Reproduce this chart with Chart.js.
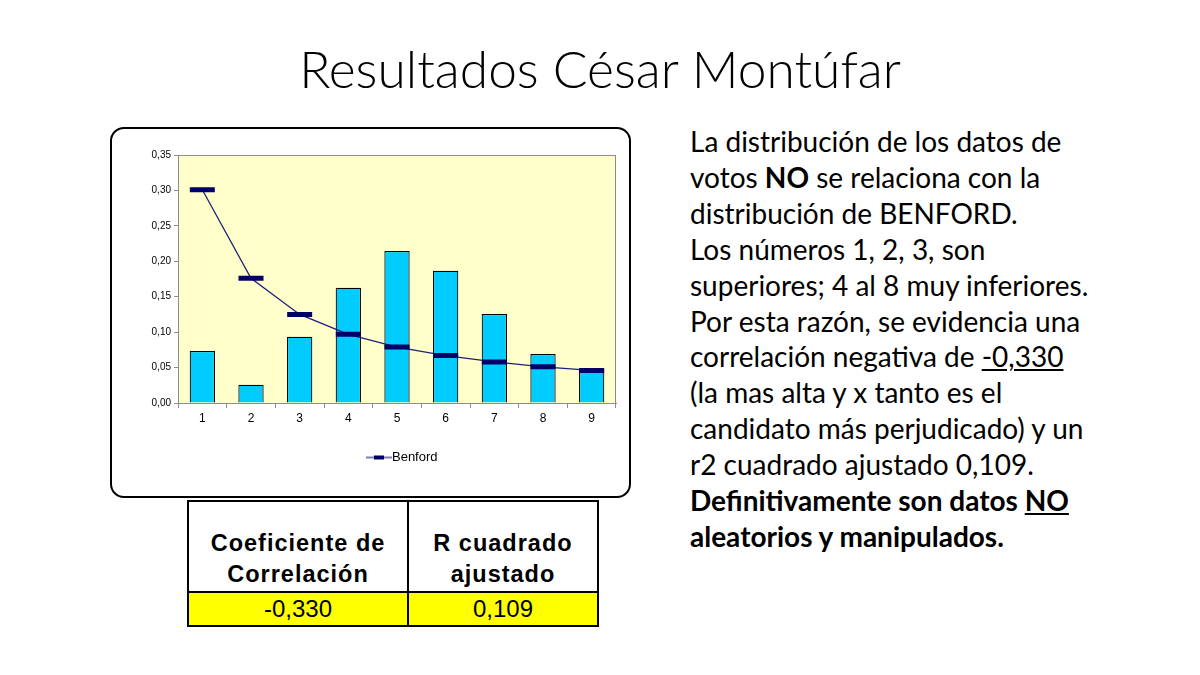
<!DOCTYPE html>
<html>
<head>
<meta charset="utf-8">
<script src="https://cdn.jsdelivr.net/npm/chart.js@4"></script>
<style>
  html, body { margin:0; padding:0; background:#fff; }
  body { width:1200px; height:675px; position:relative; overflow:hidden; font-family: Lato, "Open Sans", sans-serif; }
  #title { position:absolute; left:0; top:33px; width:1200px; text-align:center; font-family: Lato, sans-serif; font-weight:300; font-size:51.5px; line-height:70px; color:#000; }
  #box { position:absolute; left:110px; top:127px; width:517px; height:367px; border:2px solid #000; border-radius:14px; background:#fff; overflow:hidden; }
  #wrap { position:absolute; left:0; top:0; width:517px; height:367px; }
  #txt { position:absolute; left:690px; top:124px; width:505px; font-size:28px; line-height:35.9px; color:#000; white-space:nowrap; }
  #txt b { font-weight:700; }
  table { position:absolute; left:187px; top:500px; border-collapse:collapse; font-family:"Liberation Sans", Arial, sans-serif; }
  td { border:2px solid #000; text-align:center; padding:0; }
  td.h { height:88px; font-weight:bold; font-size:23.5px; letter-spacing:1px; line-height:31px; vertical-align:bottom; padding-bottom:1px; }
  td.v { height:32px; background:#ffff00; font-size:24px; }
</style>
</head>
<body>
<div id="title">Resultados César Montúfar</div>
<div id="box"><div id="wrap"><canvas id="c"></canvas></div></div>
<div id="txt">
La distribución de los datos de<br>
votos <b>NO</b> se relaciona con la<br>
distribución de BENFORD.<br>
Los números 1, 2, 3, son<br>
superiores; 4 al 8 muy inferiores.<br>
Por esta razón, se evidencia una<br>
correlación negativa de <u>-0,330</u><br>
(la mas alta y x tanto es el<br>
candidato más perjudicado) y un<br>
r2 cuadrado ajustado 0,109.<br>
<b>Definitivamente son datos <u>NO</u></b><br>
<b>aleatorios y manipulados.</b>
</div>
<table>
  <tr><td class="h" style="width:218px">Coeficiente de<br>Correlación</td><td class="h" style="width:188px">R cuadrado<br>ajustado</td></tr>
  <tr><td class="v">-0,330</td><td class="v">0,109</td></tr>
</table>
<script>
const categories = ['1','2','3','4','5','6','7','8','9'];
const observed = [0.0734, 0.0258, 0.0936, 0.1627, 0.2145, 0.1867, 0.1256, 0.0690, 0.0484];
const benford = [0.301, 0.176, 0.125, 0.097, 0.079, 0.067, 0.058, 0.051, 0.046];
const yTicks = [0, 0.05, 0.10, 0.15, 0.20, 0.25, 0.30, 0.35];

const legendIcon = document.createElement('canvas');
legendIcon.width = 26; legendIcon.height = 6;
(function(){
  const g = legendIcon.getContext('2d');
  g.strokeStyle = '#2a2a8a'; g.lineWidth = 1.2;
  g.beginPath(); g.moveTo(0,3); g.lineTo(26,3); g.stroke();
  g.fillStyle = '#000066'; g.fillRect(8,1,10,4);
})();

const bgPlugin = {
  id:'bgPlugin',
  afterLayout(chart){
    if (chart.legend) { chart.legend.left += 8; chart.legend.right += 8; }
  },
  beforeDatasetsDraw(chart){
    const {ctx, chartArea:a} = chart;
    ctx.save();
    ctx.fillStyle = '#ffffcc';
    ctx.fillRect(a.left, a.top, a.right-a.left, a.bottom-a.top);
    ctx.strokeStyle = '#8c8c8c'; ctx.lineWidth = 1;
    ctx.strokeRect(a.left+0.5, a.top+0.5, a.right-a.left-1, a.bottom-a.top);
    ctx.restore();
  }
};

new Chart(document.getElementById('c'), {
  data: {
    labels: categories,
    datasets: [
      { type:'line', label:'Benford', data: benford, order:1,
        borderColor:'#1f1f7a', borderWidth:1.3, fill:false, tension:0,
        pointStyle:'line', pointRadius:12.5, pointHoverRadius:12.5, pointBorderWidth:5,
        pointBorderColor:'#000066', pointBackgroundColor:'#000066' },
      { type:'bar', label:'Observado', data: observed, order:2,
        backgroundColor:'#00ccff', borderColor:'#000000', borderWidth:1.2,
        barPercentage:0.52, categoryPercentage:1.0 }
    ]
  },
  options: {
    responsive:true, maintainAspectRatio:false, animation:false,
    layout:{ autoPadding:false, padding:{ left:0, right:13, top:26, bottom:22 } },
    plugins:{
      tooltip:{enabled:false},
      legend:{ position:'bottom', fullSize:false,
        labels:{ font:{family:'"Liberation Sans", Arial', size:13}, color:'#000', usePointStyle:true,
          generateLabels:(chart)=>[{ text:'Benford', pointStyle: legendIcon, datasetIndex:0, fontColor:'#000', lineWidth:0, hidden:false }]
        }
      }
    },
    scales:{
      x:{ offset:true,
        grid:{ display:true, drawOnChartArea:false, drawTicks:true, tickLength:5, color:'#8c8c8c', offset:true },
        border:{ display:true, color:'#8c8c8c' },
        ticks:{ font:{family:'"Liberation Sans", Arial', size:12}, color:'#000', padding:3 },
        afterFit:(s)=>{ s.height = 38; s.paddingRight = 0; s.paddingLeft = 0; }
      },
      y:{ min:0, max:0.35,
        afterBuildTicks:(s)=>{ s.ticks = yTicks.map(v=>({value:v})); },
        grid:{ display:true, drawOnChartArea:false, drawTicks:true, tickLength:4, color:'#8c8c8c' },
        border:{ display:true, color:'#8c8c8c' },
        ticks:{ font:{family:'"Liberation Sans", Arial', size:10}, color:'#000', padding:3,
          callback:(v)=> Number(v).toFixed(2).replace('.', ',') },
        afterFit:(s)=>{ s.width = 66; }
      }
    }
  },
  plugins:[bgPlugin]
});
</script>
</body>
</html>
